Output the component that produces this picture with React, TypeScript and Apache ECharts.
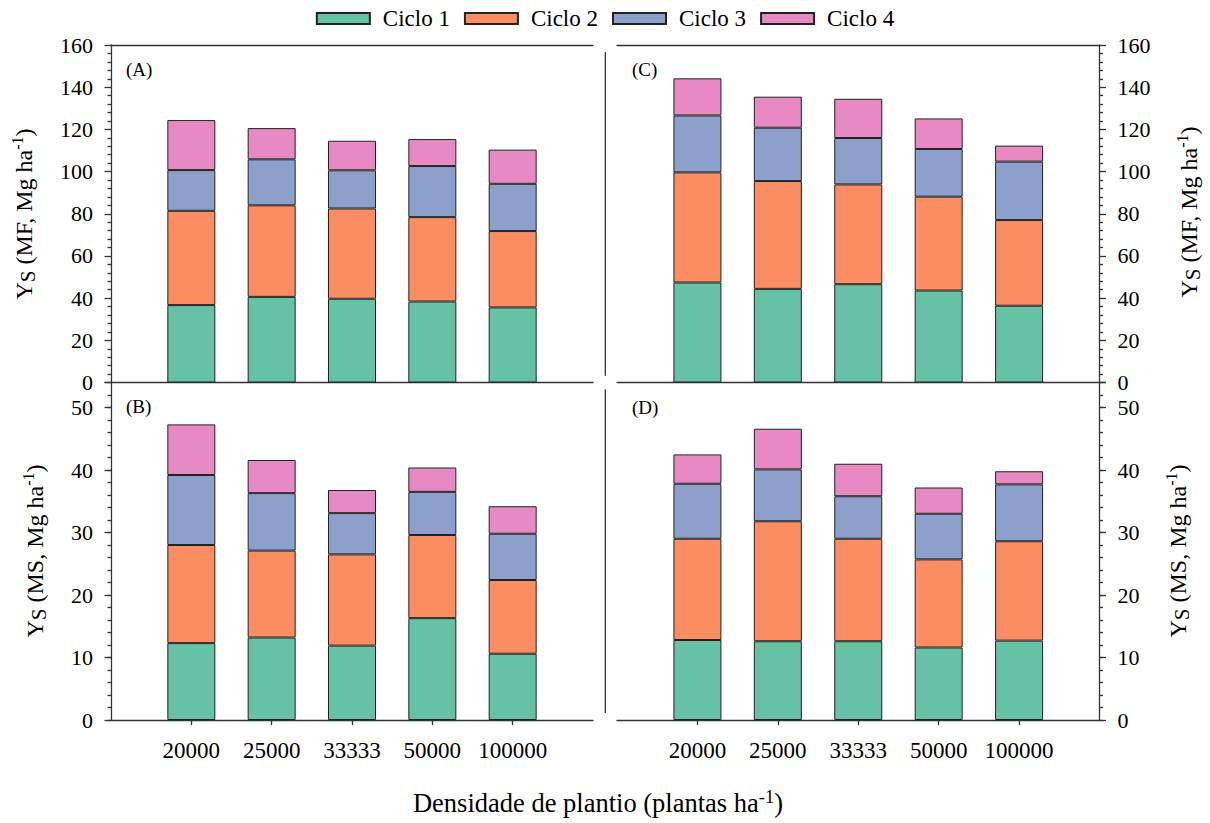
import React, { useEffect, useRef } from "react";
import * as echarts from "echarts";

const categories = ["20000", "25000", "33333", "50000", "100000"];
const cycleNames = ["Ciclo 1", "Ciclo 2", "Ciclo 3", "Ciclo 4"];
const cycleColors = ["#66c2a5", "#fc8d62", "#8da0cb", "#e78ac3"];

// (A) Ys MF, left top
const a1 = [36.7, 40.6, 39.7, 38.4, 35.6];
const a2 = [44.7, 43.4, 42.8, 40.0, 36.2];
const a3 = [19.3, 21.8, 18.1, 24.2, 22.4];
const a4 = [23.7, 14.8, 14.0, 12.8, 16.2];
// (B) Ys MS, left bottom
const b1 = [12.3, 13.2, 11.9, 16.3, 10.6];
const b2 = [15.7, 13.9, 14.6, 13.3, 11.8];
const b3 = [11.2, 9.2, 6.6, 6.9, 7.4];
const b4 = [8.1, 5.3, 3.7, 3.9, 4.4];
// (C) Ys MF, right top
const c1 = [47.4, 44.4, 46.6, 43.6, 36.4];
const c2 = [52.2, 51.1, 47.3, 44.5, 40.6];
const c3 = [27.0, 25.3, 22.0, 22.6, 27.7];
const c4 = [17.6, 14.7, 18.6, 14.5, 7.6];
// (D) Ys MS, right bottom
const d1 = [12.8, 12.6, 12.6, 11.6, 12.7];
const d2 = [16.2, 19.2, 16.4, 14.1, 15.9];
const d3 = [8.8, 8.3, 6.8, 7.3, 9.1];
const d4 = [4.7, 6.5, 5.2, 4.2, 2.1];

const FONT = "'Liberation Serif', 'Times New Roman', serif";
const LINE = { color: "#333", width: 1.3 };

export default function App() {
  const ref = useRef<HTMLDivElement>(null);

  useEffect(() => {
    document.body.style.margin = "0";
    const chart = echarts.init(ref.current!, null, { renderer: "svg" });
    const xData = ["", ...categories, ""];
    const inner = (i: number) => i > 0 && i < xData.length - 1;

    const grids = [
      { left: 111, top: 45, width: 482, height: 337.5 },
      { left: 111, top: 382.5, width: 482, height: 337.5 },
      { left: 617, top: 45, width: 482.5, height: 337.5 },
      { left: 617, top: 382.5, width: 482.5, height: 337.5 },
    ];
    const isBottom = [false, true, false, true];
    const isRight = [false, false, true, true];

    const xAxis: any[] = grids.map((_, g) => ({
      type: "category",
      gridIndex: g,
      position: "bottom",
      data: xData,
      boundaryGap: false,
      axisLine: { show: true, onZero: false, lineStyle: LINE },
      axisTick: { show: isBottom[g], interval: (i: number) => inner(i), length: 5, lineStyle: LINE },
      axisLabel: {
        show: isBottom[g],
        interval: (i: number) => inner(i),
        fontSize: 23,
        fontFamily: FONT,
        color: "#000",
        margin: 19,
      },
      splitLine: { show: false },
    }));
    [0, 2].forEach((g) =>
      xAxis.push({
        type: "category",
        gridIndex: g,
        position: "top",
        data: xData,
        boundaryGap: false,
        axisLine: { show: true, onZero: false, lineStyle: LINE },
        axisTick: { show: false },
        axisLabel: { show: false },
        splitLine: { show: false },
      })
    );

    const yAxis: any[] = grids.map((_, g) => {
      const top = !isBottom[g];
      return {
        type: "value",
        gridIndex: g,
        position: isRight[g] ? "right" : "left",
        min: 0,
        max: top ? 160 : 54,
        interval: top ? 20 : 10,
        axisLine: { show: true, lineStyle: LINE },
        axisTick: { show: true, length: 6.5, lineStyle: LINE },
        minorTick: { show: top, splitNumber: 5, length: 3.5, lineStyle: LINE },
        splitLine: { show: false },
        axisLabel: {
          fontSize: 22,
          fontFamily: FONT,
          color: "#000",
          margin: 18,
          formatter: (v: number) => (v % 10 === 0 ? String(v) : ""),
        },
      };
    });
    [1, 3].forEach((g) =>
      yAxis.push({
        type: "value",
        gridIndex: g,
        position: isRight[g] ? "right" : "left",
        min: 0,
        max: 54,
        interval: 2,
        axisLine: { show: false },
        axisTick: { show: true, length: 3.5, lineStyle: LINE },
        axisLabel: { show: false },
        splitLine: { show: false },
      })
    );

    const panelData = [
      [a1, a2, a3, a4],
      [b1, b2, b3, b4],
      [c1, c2, c3, c4],
      [d1, d2, d3, d4],
    ];
    const series: any[] = [];
    panelData.forEach((cycles, g) => {
      cycles.forEach((arr, j) => {
        series.push({
          type: "bar",
          name: cycleNames[j],
          xAxisIndex: g,
          yAxisIndex: g,
          stack: "panel" + g,
          barWidth: 48,
          data: [null, ...arr, null],
          itemStyle: { color: cycleColors[j], borderColor: "#222", borderWidth: 1 },
        });
      });
    });

    const richBase = (fs: number) => ({
      m: { fontSize: fs, fontFamily: FONT, fill: "#000", lineHeight: fs + 5 },
      s: { fontSize: fs - 3, fontFamily: FONT, fill: "#000", verticalAlign: "bottom" },
      p: { fontSize: fs - 8, fontFamily: FONT, fill: "#000", verticalAlign: "top" },
    });
    const yTitle = (x: number, y: number, kind: string) => ({
      type: "text",
      x,
      y,
      rotation: Math.PI / 2,
      style: {
        text: `{m|Y}{s|S}{m| (${kind}, Mg ha}{p|-1}{m|)}`,
        fontSize: 24,
        fontFamily: FONT,
        fill: "#000",
        align: "center",
        verticalAlign: "middle",
        rich: richBase(24),
      },
    });
    const panelLabel = (x: number, y: number, t: string) => ({
      type: "text",
      x,
      y,
      style: { text: t, fontSize: 19, fontFamily: FONT, fill: "#000", align: "left", verticalAlign: "middle" },
    });

    chart.setOption({
      animation: false,
      backgroundColor: "#fff",
      legend: {
        top: 7,
        left: "center",
        icon: "rect",
        itemWidth: 53,
        itemHeight: 11,
        itemGap: 14,
        padding: 0,
        data: cycleNames,
        textStyle: { fontSize: 23, fontFamily: FONT, color: "#000", padding: [0, 0, 0, 8] },
      },
      grid: grids,
      xAxis,
      yAxis,
      series,
      graphic: [
        { type: "line", shape: { x1: 605.3, y1: 52, x2: 605.3, y2: 375.7 }, style: { stroke: "#333", lineWidth: 1.3 } },
        { type: "line", shape: { x1: 605.3, y1: 389.3, x2: 605.3, y2: 713 }, style: { stroke: "#333", lineWidth: 1.3 } },
        panelLabel(126, 69, "(A)"),
        panelLabel(126, 406, "(B)"),
        panelLabel(632, 69, "(C)"),
        panelLabel(632, 407, "(D)"),
        yTitle(24, 214, "MF"),
        yTitle(35, 551, "MS"),
        yTitle(1189, 212, "MF"),
        yTitle(1178, 551, "MS"),
        {
          type: "text",
          x: 598,
          y: 803,
          style: {
            text: "{m|Densidade de plantio (plantas ha}{p|-1}{m|)}",
            fontSize: 26.5,
            fontFamily: FONT,
            fill: "#000",
            align: "center",
            verticalAlign: "middle",
            rich: richBase(26.5),
          },
        },
      ],
    });
    return () => chart.dispose();
  }, []);

  return <div ref={ref} style={{ width: 1210, height: 823 }} />;
}
